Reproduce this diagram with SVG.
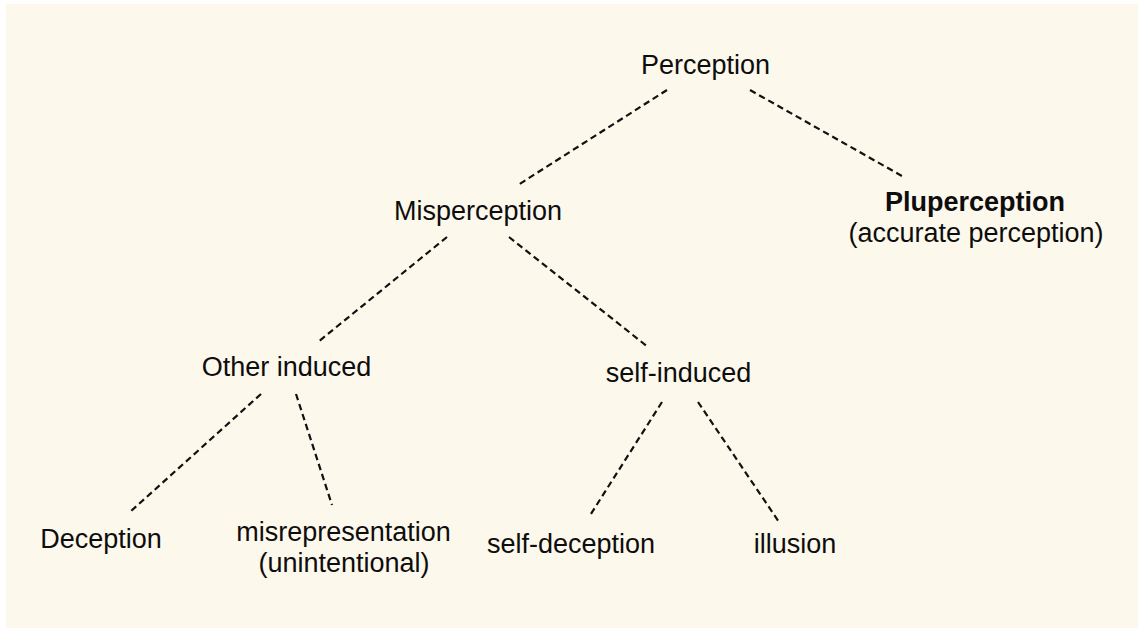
<svg xmlns="http://www.w3.org/2000/svg" width="1138" height="628" viewBox="0 0 1138 628">
<style>
.t{font-family:"Liberation Sans",Arial,Helvetica,sans-serif;font-size:27px;fill:#0d0d0d;text-anchor:middle}
.b{font-weight:bold}
.c{stroke:#111;stroke-width:2.2;stroke-dasharray:6.5 4;fill:none}
</style>
<rect x="0" y="0" width="1138" height="628" fill="#ffffff"/>
<rect x="6" y="4" width="1132" height="624" fill="#fdf8ec"/>
<g id="connectors">
<line class="c" x1="667" y1="90" x2="518" y2="185"/>
<line class="c" x1="750" y1="90" x2="902" y2="176"/>
<line class="c" x1="447" y1="237" x2="318" y2="342"/>
<line class="c" x1="509" y1="237" x2="648" y2="347"/>
<line class="c" x1="261" y1="394" x2="130" y2="512"/>
<line class="c" x1="296" y1="394" x2="332" y2="505"/>
<line class="c" x1="662" y1="402" x2="589" y2="517"/>
<line class="c" x1="698" y1="402" x2="779" y2="522"/>
</g>
<g id="perception"><text class="t" x="705.5" y="74">Perception</text></g>
<g id="misperception"><text class="t" x="478" y="220">Misperception</text></g>
<g id="pluperception"><text class="t b" x="975" y="211">Pluperception</text><text class="t" x="976" y="242">(accurate perception)</text></g>
<g id="other-induced"><text class="t" x="286.5" y="376">Other induced</text></g>
<g id="self-induced"><text class="t" x="678.5" y="382">self-induced</text></g>
<g id="deception"><text class="t" x="101" y="548">Deception</text></g>
<g id="misrepresentation"><text class="t" x="343.5" y="541">misrepresentation</text><text class="t" x="344" y="572">(unintentional)</text></g>
<g id="self-deception"><text class="t" x="571" y="553">self-deception</text></g>
<g id="illusion"><text class="t" x="795" y="553">illusion</text></g>
</svg>
